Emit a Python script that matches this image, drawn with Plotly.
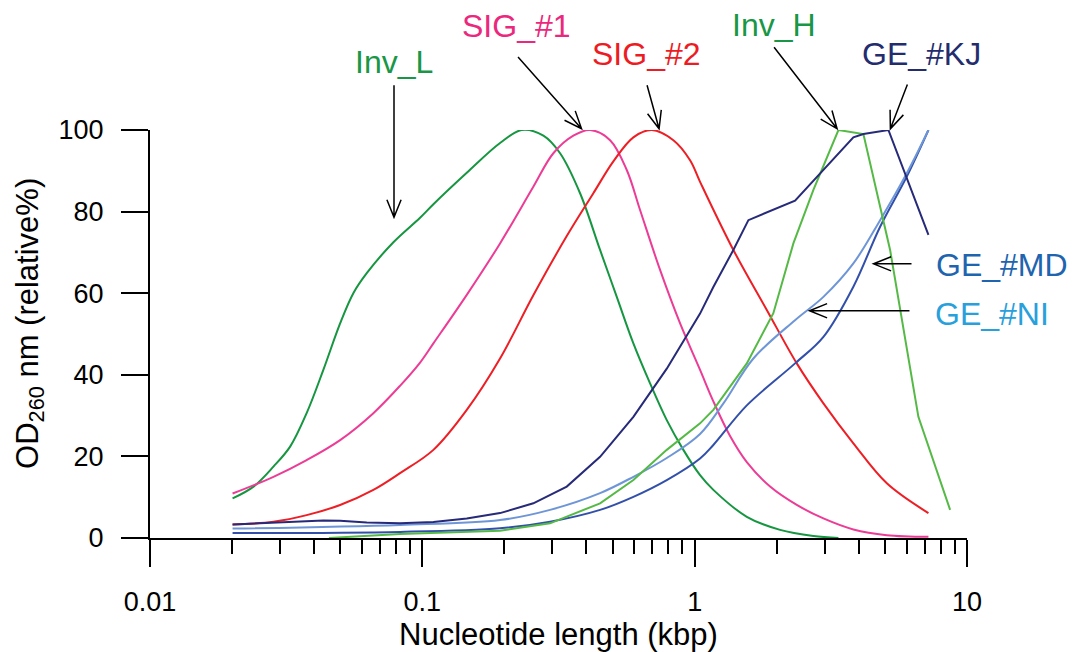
import math
import plotly.graph_objects as go

# ---------------- data (x in kbp, y in relative %) ----------------
invl_x = [0.0201, 0.0240, 0.0284, 0.0327, 0.0376, 0.0433, 0.0499, 0.0558, 0.0625, 0.0783, 0.0981,
          0.1098, 0.1456, 0.1929, 0.2317, 0.2783, 0.3205, 0.3795, 0.4494, 0.5176, 0.5956, 0.6859,
          0.7899, 0.9090, 1.0467, 1.171, 1.554, 2.059, 2.729, 3.372]
invl_y = [9.7, 12.6, 17.5, 22.4, 30.6, 41.2, 52.6, 60.0, 64.9, 72.5, 78.5,
          81.8, 89.5, 96.8, 100, 98.6, 94.3, 84.5, 70.6, 59.1, 47.7, 37.9,
          28.9, 21.6, 15.4, 11.8, 5.2, 2.0, 0.5, 0.0]

sig1_x = [0.0201, 0.0284, 0.0376, 0.0499, 0.0661, 0.0828, 0.0981, 0.1098, 0.1456, 0.1929, 0.2556,
          0.3027, 0.3585, 0.4130, 0.4891, 0.5632, 0.6302, 0.7464, 0.8841, 1.0467, 1.171, 1.349,
          1.554, 1.892, 2.371, 2.970, 3.826, 5.077, 7.218]
sig1_y = [10.9, 15.0, 19.1, 24.0, 30.6, 37.3, 43.0, 47.7, 59.6, 72.2, 86.1,
          94.3, 98.6, 100, 97.5, 90.2, 80.4, 65.7, 52.6, 41.2, 33.5, 25.0,
          18.6, 12.6, 8.1, 4.8, 2.1, 0.7, 0.3]

sig2_x = [0.0201, 0.0284, 0.0376, 0.0499, 0.0661, 0.0828, 0.1098, 0.1456, 0.1929, 0.2556, 0.3391,
          0.4246, 0.5029, 0.5956, 0.6960, 0.8352, 0.9618, 1.0467, 1.387, 1.840, 2.371, 2.970,
          3.826, 5.077, 7.218]
sig2_y = [3.3, 4.0, 5.6, 8.1, 11.8, 15.9, 21.6, 31.4, 44.0, 59.5, 74.0,
          84.5, 92.3, 98.2, 100, 97.5, 92.6, 87.3, 70.6, 55.9, 42.8, 33.0,
          23.2, 13.4, 6.1]

invh_x = [0.0454, 0.0828, 0.1929, 0.2944, 0.4494, 0.5956, 0.7899, 1.0467, 1.171, 1.554, 1.945,
          2.304, 2.729, 3.372, 4.165, 5.220, 6.630, 8.669]
invh_y = [0.0, 1.0, 1.8, 3.6, 8.5, 14.2, 21.6, 28.1, 31.4, 42.8, 55.1,
          72.2, 85.3, 100, 99.0, 70.6, 29.7, 6.9]

kj_x = [0.0201, 0.0284, 0.0376, 0.0433, 0.0499, 0.0625, 0.0828, 0.1098, 0.1456, 0.1929, 0.2556,
        0.3391, 0.4494, 0.5956, 0.7899, 1.0467, 1.171, 1.387, 1.575, 2.337, 3.826, 4.165,
        5.145, 7.218]
kj_y = [3.3, 3.7, 4.1, 4.3, 4.2, 3.8, 3.6, 3.9, 4.8, 6.1, 8.5,
        12.6, 19.9, 29.7, 41.5, 55.0, 61.5, 70.6, 77.9, 82.7, 98.2, 99.0,
        100, 74.3]

ni_x = [0.0201, 0.0828, 0.1929, 0.2944, 0.4494, 0.5956, 0.7899, 1.0467, 1.275, 1.643, 2.337,
        2.970, 3.826, 4.797, 6.009, 7.218]
ni_y = [2.3, 3.2, 4.4, 6.9, 11.0, 15.0, 19.6, 25.5, 33.0, 44.0, 53.4,
        59.1, 67.3, 77.9, 89.4, 100]

md_x = [0.0201, 0.0828, 0.1929, 0.2944, 0.4494, 0.5956, 0.7899, 1.0467, 1.171, 1.554, 2.337,
        2.970, 3.826, 4.797, 6.009, 7.218]
md_y = [1.2, 1.5, 2.4, 4.0, 6.9, 10.1, 14.2, 19.5, 22.8, 32.5, 42.8,
        49.3, 61.6, 76.3, 88.6, 100]

# axis ticks
x_major = [0.01, 0.1, 1, 10]
x_major_text = ["0.01", "0.1", "1", "10"]
x_minor = [m * d for d in (0.01, 0.1, 1) for m in range(2, 10)]
y_ticks = [0, 20, 40, 60, 80, 100]

# labels: name, colour, arrow target (x kbp, y %)
label_names = ["Inv_L", "SIG_#1", "SIG_#2", "Inv_H", "GE_#KJ", "GE_#MD", "GE_#NI"]
label_colors = ["rgb(25,150,70)", "rgb(235,40,125)", "rgb(237,28,36)", "rgb(25,150,70)",
                "rgb(35,45,110)", "rgb(30,100,175)", "rgb(40,160,220)"]
arrow_x = [0.0787, 0.3842, 0.7401, 3.334, 5.232, 4.536, 2.640]
arrow_y = [78.6, 100.3, 100.3, 100.3, 100.3, 67.2, 55.7]

# ---------------- styling ----------------
FONT = "Arial, 'Liberation Sans', Helvetica, sans-serif"
series = [
    ("Inv_L", invl_x, invl_y, "rgb(22,150,65)", "spline"),
    ("SIG_#1", sig1_x, sig1_y, "rgb(236,60,150)", "spline"),
    ("SIG_#2", sig2_x, sig2_y, "rgb(237,30,36)", "spline"),
    ("GE_#MD", md_x, md_y, "rgb(50,80,170)", "spline"),
    ("GE_#NI", ni_x, ni_y, "rgb(110,150,215)", "spline"),
    ("Inv_H", invh_x, invh_y, "rgb(85,185,70)", "linear"),
    ("GE_#KJ", kj_x, kj_y, "rgb(38,42,120)", "linear"),
]

fig = go.Figure()
for name, xs, ys, col, shape in series:
    line = dict(color=col, width=2, shape=shape)
    if shape == "spline":
        line["smoothing"] = 1.0
    fig.add_trace(go.Scatter(x=xs, y=ys, mode="lines", name=name, line=line,
                             cliponaxis=False, showlegend=False))

# label text positions (paper)
text_pos = [(0.2987, 1.167, "center"), (0.448, 1.255, "center"), (0.6083, 1.186, "center"),
            (0.7632, 1.257, "center"), (0.9443, 1.186, "center"), (0.9596, 0.669, "left"),
            (0.9584, 0.550, "left")]
# arrow tail offsets from the arrow tip, in screen pixels (x right, y down)
tail_off = [(0, -132), (-63.5, -71.8), (-12, -43.6), (-63, -81.6), (17, -44.2), (38, 0), (100, 0)]


def arrow_path(dx, dy_screen, arm=19.0, half_angle=22.0):
    dy = -dy_screen  # pixel sizemode: positive is up
    length = math.hypot(dx, dy)
    ux, uy = dx / length, dy / length
    pts = []
    for s in (1, -1):
        a = math.radians(half_angle) * s
        pts.append(((ux * math.cos(a) - uy * math.sin(a)) * arm,
                    (ux * math.sin(a) + uy * math.cos(a)) * arm))
    return (f"M{dx:.1f},{dy:.1f} L0,0 "
            f"M{pts[0][0]:.1f},{pts[0][1]:.1f} L0,0 L{pts[1][0]:.1f},{pts[1][1]:.1f}")


for i, name in enumerate(label_names):
    tx, ty, anchor = text_pos[i]
    fig.add_annotation(x=tx, y=ty, xref="paper", yref="paper", text=name, showarrow=False,
                       xanchor=anchor, yanchor="middle",
                       font=dict(family=FONT, size=32, color=label_colors[i]))
    dx, dy = tail_off[i]
    fig.add_shape(type="path", xref="paper", yref="paper",
                  xsizemode="pixel", ysizemode="pixel",
                  xanchor=(math.log10(arrow_x[i]) + 2) / 3, yanchor=arrow_y[i] / 100,
                  path=arrow_path(dx, dy), line=dict(color="black", width=1.5))

# y axis title placed as an annotation (slightly above the plot's centre, as in the original)
fig.add_annotation(x=-0.147, y=0.527, xref="paper", yref="paper",
                   text="OD<sub>260</sub> nm (relative%)", textangle=-90,
                   showarrow=False, xanchor="center", yanchor="middle",
                   font=dict(family=FONT, size=31, color="black"))

fig.update_layout(
    width=1073, height=652,
    margin=dict(l=150, r=106, t=130, b=114),
    paper_bgcolor="white", plot_bgcolor="white",
    font=dict(family=FONT, size=27, color="black"),
    xaxis=dict(type="log", range=[-2, 1], showgrid=False, zeroline=False,
               showline=True, linecolor="black", linewidth=2,
               tickmode="array", tickvals=x_major, ticktext=x_major_text,
               ticks="outside", ticklen=27, tickwidth=2, tickcolor="black",
               ticklabelstandoff=12,
               minor=dict(tickmode="array", tickvals=x_minor, ticks="outside",
                          ticklen=14, tickwidth=2, tickcolor="black", showgrid=False),
               title=dict(text="Nucleotide length (kbp)", standoff=4,
                          font=dict(family=FONT, size=31, color="black")),
               automargin=False),
    yaxis=dict(range=[0, 100], showgrid=False, zeroline=False,
               showline=True, linecolor="black", linewidth=2,
               tickmode="array", tickvals=y_ticks,
               ticks="outside", ticklen=27, tickwidth=2, tickcolor="black",
               ticklabelstandoff=12, automargin=False),
)

fig.write_html("out.html")
